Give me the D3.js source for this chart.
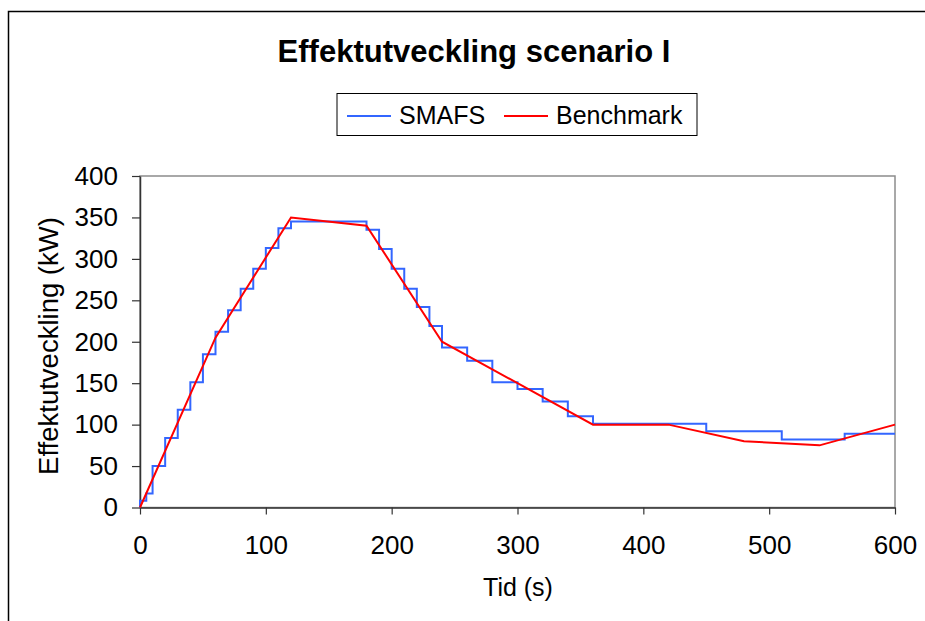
<!DOCTYPE html>
<html>
<head>
<meta charset="utf-8">
<script src="https://cdn.jsdelivr.net/npm/d3@7"></script>
<style>
  body { margin: 0; background: #fff; }
  svg { display: block; font-family: Arial, "Liberation Sans", sans-serif; }
</style>
</head>
<body>
<svg id="chart" width="925" height="621"></svg>
<script>
// SMAFS step values (kW) at start time of each step (s)
const smafsTime = [0, 5, 10, 20, 30, 40, 50, 60, 70, 80, 90, 100, 110, 120,
    180, 190, 200, 210, 220, 230, 240, 260, 280, 300, 320, 340, 360, 450, 510, 560, 600]
const smafsPower = [8, 17, 50, 84, 118, 151, 185, 212, 238, 264, 288, 313, 337, 345,
    335, 312, 288, 264, 242, 219, 193, 177, 151, 143, 128, 110, 101, 92, 82, 89, 89]

// Benchmark curve
const benchTime = [0, 60, 120, 180, 240, 360, 420, 480, 540, 600]
const benchPower = [0, 205, 350, 340, 200, 100, 100, 80, 75, 100]

const xTicks = [0, 100, 200, 300, 400, 500, 600]
const yTicks = [0, 50, 100, 150, 200, 250, 300, 350, 400]

const seriesNames = ["SMAFS", "Benchmark"]
const seriesColors = ["#3366ff", "#ff0000"]

const svg = d3.select("#chart")

// outer chart border
svg.append("rect")
    .attr("x", 8.5).attr("y", 11.5)
    .attr("width", 1000).attr("height", 1000)
    .attr("fill", "none")
    .attr("stroke", "#000")
    .attr("stroke-width", 1.5)

const plot = { left: 140, right: 895, top: 176, bottom: 507.5 }

const x = d3.scaleLinear().domain([0, 600]).range([plot.left, plot.right])
const y = d3.scaleLinear().domain([0, 400]).range([plot.bottom, plot.top])

// plot frame (grey top / right)
svg.append("rect")
    .attr("x", plot.left).attr("y", plot.top)
    .attr("width", plot.right - plot.left)
    .attr("height", plot.bottom - plot.top)
    .attr("fill", "none")
    .attr("stroke", "#8c8c8c")
    .attr("stroke-width", 1.5)

// axes
const xAxis = svg.append("g")
    .attr("transform", `translate(0,${plot.bottom})`)
    .call(d3.axisBottom(x).tickValues(xTicks).tickSize(7).tickPadding(21).tickSizeOuter(0))
const yAxis = svg.append("g")
    .attr("transform", `translate(${plot.left},0)`)
    .call(d3.axisLeft(y).tickValues(yTicks).tickSize(8).tickPadding(14).tickSizeOuter(0))

;[xAxis, yAxis].forEach(a => {
    a.select(".domain").attr("stroke", "#333").attr("stroke-width", 1.5)
    a.selectAll(".tick line").attr("stroke", "#333").attr("stroke-width", 1.2)
    a.selectAll("text")
        .attr("font-size", 26)
        .attr("font-family", "Arial, 'Liberation Sans', sans-serif")
        .attr("fill", "#000")
})
xAxis.selectAll("text").attr("dy", "0.71em")

// series
const smafs = smafsTime.map((t, i) => [t, smafsPower[i]])
const bench = benchTime.map((t, i) => [t, benchPower[i]])

const stepLine = d3.line()
    .x(d => x(d[0])).y(d => y(d[1]))
    .curve(d3.curveStepAfter)
const straightLine = d3.line()
    .x(d => x(d[0])).y(d => y(d[1]))

// first rise of SMAFS from the origin
svg.append("path")
    .attr("d", stepLine([[0, 0]].concat(smafs)))
    .attr("fill", "none")
    .attr("stroke", seriesColors[0])
    .attr("stroke-width", 2)

svg.append("path")
    .attr("d", straightLine(bench))
    .attr("fill", "none")
    .attr("stroke", seriesColors[1])
    .attr("stroke-width", 2)

// title
svg.append("text")
    .attr("x", 474).attr("y", 62)
    .attr("text-anchor", "middle")
    .attr("font-size", 31)
    .attr("font-weight", "bold")
    .text("Effektutveckling scenario I")

// axis titles
svg.append("text")
    .attr("x", 518).attr("y", 596)
    .attr("text-anchor", "middle")
    .attr("font-size", 25)
    .text("Tid (s)")
svg.append("text")
    .attr("transform", "translate(58,346) rotate(-90)")
    .attr("text-anchor", "middle")
    .attr("font-size", 27.5)
    .text("Effektutveckling (kW)")

// legend
const legend = svg.append("g")
legend.append("rect")
    .attr("x", 337).attr("y", 93.5)
    .attr("width", 360).attr("height", 42)
    .attr("fill", "#fff")
    .attr("stroke", "#000")
    .attr("stroke-width", 1)

const legendX = [347, 504]
seriesNames.forEach((name, i) => {
    legend.append("line")
        .attr("x1", legendX[i]).attr("x2", legendX[i] + 44)
        .attr("y1", 116).attr("y2", 116)
        .attr("stroke", seriesColors[i])
        .attr("stroke-width", 2)
    legend.append("text")
        .attr("x", legendX[i] + 52).attr("y", 123.5)
        .attr("font-size", 25)
        .text(name)
})
</script>
</body>
</html>
